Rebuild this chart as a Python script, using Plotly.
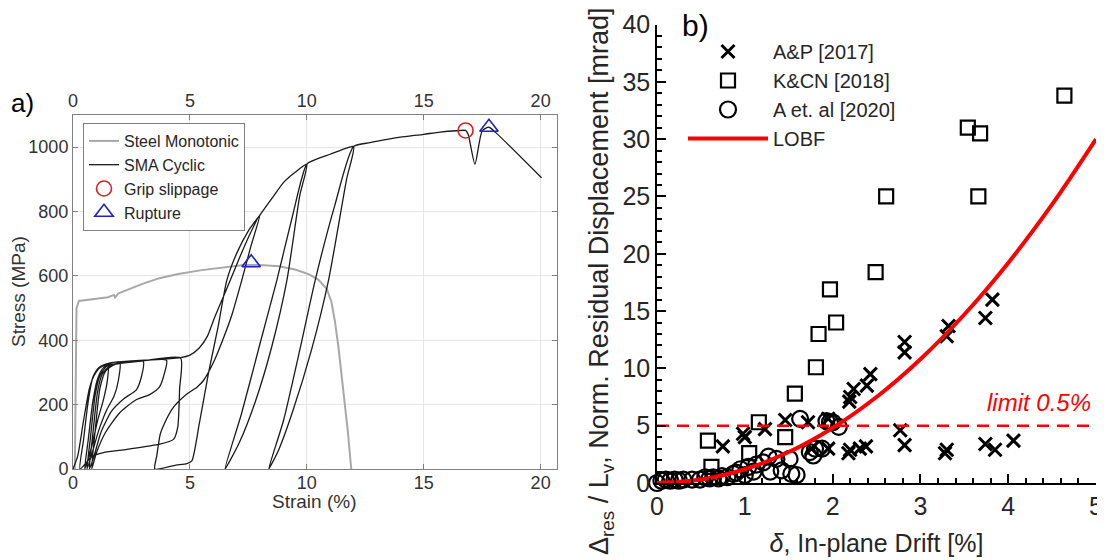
import plotly.graph_objects as go

# ---------------- panel a: stress-strain ----------------
steel_strain = [0, 0.08, 0.12, 0.15, 0.25, 0.6, 1.0, 1.5, 1.75, 1.8, 1.95, 2.5, 3.0, 3.7, 4.5, 5.5, 6.5,
                7.3, 8.0, 8.8, 9.5, 10.1, 10.5, 10.85, 11.05, 11.2, 11.35, 11.55, 11.75, 11.9]
steel_stress = [0, 0, 300, 500, 522, 525, 528, 534, 541, 533, 546, 562, 576, 593, 606, 618, 628,
                634, 634, 630, 620, 605, 588, 560, 520, 460, 380, 250, 120, 0]

# SMA cyclic test, one continuous record
sma_strain = [
    # cycle 1
    0.00, 0.20, 0.45, 0.70, 0.90, 1.15, 1.50, 1.46, 1.30, 1.05, 0.80, 0.50,
    # cycle 2
    0.65, 0.85, 1.05, 1.30, 1.60, 2.00, 1.94, 1.75, 1.45, 1.10, 0.80, 0.60,
    # cycle 3
    0.75, 0.95, 1.15, 1.45, 2.00, 3.00, 2.92, 2.70, 2.20, 1.65, 1.20, 0.90, 0.70,
    # cycle 4
    0.85, 1.05, 1.25, 1.60, 2.50, 4.00, 3.92, 3.70, 3.30, 2.70, 2.00, 1.40, 1.00, 0.80,
    # cycle 5
    0.95, 1.15, 1.40, 1.80, 3.00, 4.60, 4.56, 4.48, 4.30, 3.70, 2.30, 1.30, 0.80, 0.30,
    # cycle 6 (to 8 %)
    0.45, 0.65, 0.85, 1.10, 1.60, 2.50, 3.50, 4.60, 5.00, 5.40, 5.75, 6.04, 6.40, 6.80, 7.20, 7.60, 8.00,
    7.60, 7.22, 6.80, 6.40, 6.00, 5.58, 5.30, 4.87, 4.30, 3.90, 3.73, 3.58, 3.50,
    4.40, 4.87, 5.08, 5.40, 5.80, 6.20, 6.58, 7.00, 7.50, 8.00,
    8.50, 9.00, 9.50, 10.00,
    # cycle 7 (10 %)
    9.70, 9.15, 8.50, 7.80, 7.10, 6.50,
    7.20, 8.00, 8.72, 9.40, 10.00,
    10.50, 11.00, 11.50, 12.00,
    # cycle 8 (12 %)
    11.70, 10.93, 10.20, 9.40, 8.80, 8.37,
    9.00, 9.70, 10.36, 11.20, 12.00,
    12.70, 13.50, 14.00, 15.00, 15.70, 16.40, 16.79, 16.90, 17.19, 17.50, 17.79, 18.07, 20.04,
]
sma_stress = [
    0, 40, 150, 250, 290, 315, 325, 270, 215, 150, 70, 0,
    90, 210, 280, 315, 328, 332, 275, 225, 185, 120, 45, 0,
    100, 230, 290, 320, 330, 336, 285, 245, 220, 180, 115, 40, 0,
    110, 240, 295, 322, 332, 338, 300, 255, 232, 215, 175, 115, 50, 0,
    120, 250, 305, 325, 336, 345, 250, 130, 92, 77, 61, 51, 38, 0,
    90, 210, 285, 315, 330, 336, 340, 346, 354, 376, 413, 468, 530, 600, 670, 735, 790,
    690, 587, 480, 400, 330, 275, 254, 233, 192, 140, 108, 40, 0,
    12, 17, 25, 140, 300, 440, 587, 670, 740, 790,
    840, 890, 922, 947,
    850, 587, 380, 210, 80, 0,
    170, 390, 587, 790, 947,
    965, 978, 992, 1002,
    900, 587, 370, 180, 60, 0,
    150, 370, 587, 820, 1002,
    1014, 1025, 1031, 1040, 1047, 1051, 1052, 1040, 947, 1051, 1062, 1046, 905,
]

slip_strain = [16.79]
slip_stress = [1052]
rupture_strain = [7.62, 17.79]
rupture_stress = [641, 1062]

# ---------------- panel b: residual displacement ----------------
ap_drift = [0.75, 0.98, 1.00, 1.23, 1.46, 1.72, 1.76, 1.95, 1.95, 2.18, 2.19, 2.20, 2.20, 2.24, 2.31,
            2.38, 2.39, 2.43, 2.77, 2.82, 2.82, 2.82, 3.28, 3.30, 3.30, 3.32, 3.74, 3.74, 3.82, 3.85, 4.06]
ap_res = [3.2, 4.3, 4.0, 4.7, 5.5, 5.3, 3.0, 5.6, 3.0, 2.6, 7.1, 7.5, 2.9, 8.2, 3.0,
          3.2, 8.5, 9.5, 4.6, 3.3, 11.4, 12.3, 2.6, 2.9, 12.8, 13.7, 3.4, 14.4, 16.0, 2.9, 3.7]

kcn_drift = [0.58, 0.62, 1.05, 1.16, 1.46, 1.57, 1.81, 1.84, 2.04, 1.97, 2.49, 2.61, 3.54, 3.68, 3.66, 4.64]
kcn_res = [3.7, 1.4, 2.6, 5.3, 4.0, 7.8, 10.1, 13.0, 14.0, 16.9, 18.4, 25.0, 31.0, 30.5, 25.0, 33.8]

a20_drift = [0.00, 0.05, 0.10, 0.15, 0.20, 0.25, 0.30, 0.40, 0.49, 0.55, 0.60, 0.64, 0.70, 0.74, 0.80,
             0.87, 0.90, 0.95, 1.00, 1.04, 1.10, 1.13, 1.21, 1.27, 1.29, 1.36, 1.42, 1.51, 1.53, 1.59,
             1.63, 1.74, 1.78, 1.80, 1.88, 1.93, 1.97, 2.00, 2.07]
a20_res = [0.0, 0.2, 0.3, 0.2, 0.3, 0.2, 0.3, 0.3, 0.3, 0.5, 0.4, 0.5, 0.4, 0.6, 0.5,
           0.8, 0.9, 1.2, 0.7, 1.4, 1.0, 1.6, 1.8, 2.3, 1.0, 2.1, 1.1, 2.1, 0.8, 0.7,
           5.6, 2.7, 2.4, 3.0, 3.0, 5.4, 5.3, 5.3, 4.9]

lobf_drift = [0, 0.5, 1.0, 1.5, 2.0, 2.5, 3.0, 3.5, 4.0, 4.5, 5.0]
lobf_res = [0, 0.3, 1.2, 2.7, 4.8, 7.5, 10.8, 14.7, 19.2, 24.3, 30.0]

limit_drift = [0, 5]
limit_res = [5, 5]

W, H = 1105, 560
OFF = 8  # the page body adds an 8px margin around the figure
FONT = "Liberation Sans, Arial, sans-serif"


def px(x):
    # screen x (reference pixels) -> paper fraction
    return (x - OFF) / W


def py(y):
    # screen y (reference pixels) -> paper fraction
    return (H - (y - OFF)) / H


fig = go.Figure()

# panel a traces
fig.add_trace(go.Scatter(x=steel_strain, y=steel_stress, mode='lines', name='Steel Monotonic',
                         line=dict(color='#a8a8a8', width=2), legend='legend'))
fig.add_trace(go.Scatter(x=sma_strain, y=sma_stress, mode='lines', name='SMA Cyclic',
                         line=dict(color='#1a1a1a', width=1.3, shape='spline', smoothing=0.6),
                         legend='legend'))
fig.add_trace(go.Scatter(x=slip_strain, y=slip_stress, mode='markers', name='Grip slippage',
                         marker=dict(symbol='circle-open', size=15, color='#e02020', line=dict(width=1.6)),
                         legend='legend'))
fig.add_trace(go.Scatter(x=rupture_strain, y=rupture_stress, mode='markers', name='Rupture',
                         marker=dict(symbol='triangle-up-open', size=16, color='#2020c8', line=dict(width=1.6)),
                         legend='legend'))
# empty trace so the top axis gets drawn
fig.add_trace(go.Scatter(x=[None], y=[None], xaxis='x3', yaxis='y', showlegend=False, hoverinfo='skip'))

# panel b traces
fig.add_trace(go.Scatter(x=ap_drift, y=ap_res, mode='markers', name='A&P [2017]', xaxis='x2', yaxis='y2',
                         marker=dict(symbol='x-thin-open', size=13, color='black', line=dict(width=3, color='black')),
                         cliponaxis=False, legend='legend2'))
fig.add_trace(go.Scatter(x=kcn_drift, y=kcn_res, mode='markers', name='K&CN [2018]', xaxis='x2', yaxis='y2',
                         marker=dict(symbol='square-open', size=14, color='black', line=dict(width=2.2)),
                         cliponaxis=False, legend='legend2'))
fig.add_trace(go.Scatter(x=a20_drift, y=a20_res, mode='markers', name='A et. al [2020]', xaxis='x2', yaxis='y2',
                         marker=dict(symbol='circle-open', size=16, color='black', line=dict(width=2.2)),
                         cliponaxis=False, legend='legend2'))
fig.add_trace(go.Scatter(x=lobf_drift, y=lobf_res, mode='lines', name='LOBF', xaxis='x2', yaxis='y2',
                         line=dict(color='#ff0000', width=4, shape='spline'), legend='legend2'))
fig.add_trace(go.Scatter(x=limit_drift, y=limit_res, mode='lines', showlegend=False, xaxis='x2', yaxis='y2',
                         line=dict(color='#ff0000', width=2.5, dash='12px,8px')))

axis_a = dict(showline=True, linecolor='#808080', linewidth=1, ticks='inside', ticklen=5,
              tickcolor='#808080', zeroline=False, tickfont=dict(size=18, color='#333333'))
axis_b = dict(showline=True, linecolor='black', linewidth=1.5, ticks='inside', ticklen=9, tickwidth=1.5,
              tickcolor='black', zeroline=False, showgrid=False, tickfont=dict(size=25, color='#262626'))

fig.update_layout(
    width=W, height=H,
    margin=dict(l=0, r=0, t=0, b=0, autoexpand=False),
    paper_bgcolor='white', plot_bgcolor='white',
    font=dict(family=FONT, color='#262626'),
    xaxis=dict(axis_a, domain=[px(73), px(557)], anchor='y', range=[0, 20.7], dtick=5,
               showgrid=True, gridcolor='#e6e6e6', ticklabelstandoff=-3),
    xaxis3=dict(axis_a, overlaying='x', anchor='y', side='top', range=[0, 20.7], dtick=5, showgrid=False),
    yaxis=dict(axis_a, domain=[py(469), py(115)], anchor='x', range=[0, 1100], dtick=200,
               showgrid=True, gridcolor='#e6e6e6', mirror='ticks'),
    xaxis2=dict(axis_b, domain=[px(657), px(1096)], anchor='y2', range=[0, 5], dtick=1,
                minor=dict(ticks='inside', dtick=0.2, ticklen=5, tickwidth=1.5, tickcolor='black'),
                title=dict(text='<i>δ</i>, In-plane Drift [%]', font=dict(size=25), standoff=16)),
    yaxis2=dict(axis_b, domain=[py(483), py(24.5)], anchor='x2', range=[0, 40], dtick=5,
                minor=dict(ticks='inside', dtick=1, ticklen=5, tickwidth=1.5, tickcolor='black')),
    legend=dict(x=px(83), y=py(123), xanchor='left', yanchor='top', bgcolor='white',
                bordercolor='#808080', borderwidth=1, font=dict(size=16, color='#262626'),
                tracegroupgap=0),
    legend2=dict(x=675 / W, y=(H - 24) / H, xanchor='left', yanchor='top', bgcolor='rgba(0,0,0,0)',
                 borderwidth=0, font=dict(size=20, color='#262626'), itemwidth=80),
    annotations=[
        dict(text='a)', x=px(22), y=py(103), xref='paper', yref='paper', showarrow=False,
             xanchor='center', yanchor='middle', font=dict(size=26, color='black')),
        dict(text='b)', x=px(695), y=py(25), xref='paper', yref='paper', showarrow=False,
             xanchor='center', yanchor='middle', font=dict(size=30, color='black')),
        dict(text='Stress (MPa)', x=px(18), y=py(292), xref='paper', yref='paper', showarrow=False,
             xanchor='center', yanchor='middle', textangle=-90, font=dict(size=19, color='#333333')),
        dict(text='Strain (%)', x=px(314), y=py(501), xref='paper', yref='paper', showarrow=False,
             xanchor='center', yanchor='middle', font=dict(size=19, color='#333333')),
        dict(text='Δ<sub>res</sub> / L<sub>v</sub>, Norm. Residual Displacement [mrad]',
             x=px(601), y=py(282), xref='paper', yref='paper', showarrow=False, textangle=-90,
             xanchor='center', yanchor='middle', font=dict(size=27, color='#262626')),
        dict(text='<i>limit 0.5%</i>', x=4.97, y=7.0, xref='x2', yref='y2', xanchor='right',
             yanchor='middle', showarrow=False, font=dict(size=24, color='#ff0000')),
    ],
)

fig.write_html("out.html")
